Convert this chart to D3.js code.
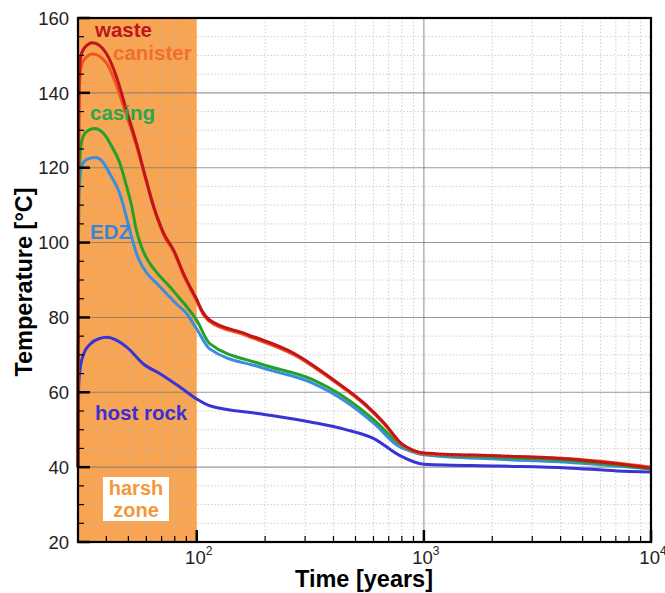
<!DOCTYPE html>
<html><head><meta charset="utf-8">
<script src="https://cdn.jsdelivr.net/npm/d3@7"></script>
<style>body{margin:0;background:#fff}svg{display:block}text{font-family:"Liberation Sans",Arial,Helvetica,sans-serif}</style>
</head><body>
<script>
// ---- data (time in years, temperature in °C) ----
const waste = [[30,40],[30.15,120],[30.3,143],[30.8,149.5],[32,152],[34.8,153.4],[40,150.5],[44.3,144.3],[49,135.4],[54.3,126.5],[60,116.6],[64.7,109.5],[67,106.8],[71.6,102.4],[79.2,97.9],[87.6,91.6],[97,86.3],[100,84.8],[105,82],[114,79.3],[163,75.7],[270,70.3],[405,63.1],[550,56.9],[673,51.6],[800,46.2],[900,44.5],[1000,43.8],[2160,43],[4270,42.2],[7080,40.9],[10000,39.8]];
const canister = [[30,40],[30.15,115],[30.3,138],[30.8,146],[32,149],[34.8,150.4],[40,148],[44.3,142],[49,134],[54.3,125.8],[60,116.2],[64.7,109.2],[67,106.5],[71.6,102],[79.2,97.5],[87.6,91.2],[97,85.9],[100,84.4],[105,81.6],[114,78.9],[163,75.3],[270,69.9],[405,62.8],[550,56.6],[673,51.3],[800,46],[900,44.3],[1000,43.6],[2160,43],[4270,42.3],[7080,41.1],[10000,40]];
const casing = [[30,40],[30.15,100],[30.3,116],[31,126.5],[32.5,129.5],[35.5,130.5],[40,128.2],[41.4,126.6],[45.8,121.3],[49,115.2],[51.6,110],[53.9,104],[57.1,98.8],[61,95.2],[67.5,91.6],[76.1,88.2],[82.7,85.6],[90,83],[97,80.4],[100,79.2],[114,73],[193,67.5],[320,63.5],[449,58.6],[608,52.4],[768,46.6],[900,44.2],[1000,43.5],[2160,42.6],[4270,41.8],[7080,40.6],[10000,39.6]];
const edz = [[30,40],[30.1,95],[30.2,112],[31.2,120.6],[33,122.3],[35.8,122.7],[38.5,121.6],[41.4,118.4],[45.8,113.1],[49,106.8],[51.6,101.5],[55.1,96],[60,92],[66.4,89.2],[73.5,86.4],[81.4,83.6],[90.6,80.9],[95.4,78.8],[100,76.9],[114,71.6],[193,66.6],[320,62.6],[449,57.7],[608,51.5],[768,45.7],[900,44],[1000,43.3],[2160,42.1],[4270,41.3],[7080,40.3],[10000,39.5]];
const hostRock = [[30,40],[30.2,61.3],[30.6,66],[31.8,70.3],[34,72.9],[37,74.3],[40.3,74.7],[44,74],[49.3,72],[58.4,67.5],[69.2,64.9],[84.8,61.3],[100,58.2],[114,56.4],[193,54.2],[320,52],[449,50.1],[608,47.5],[768,43.4],[1000,40.8],[2160,40.3],[4270,39.8],[7080,39],[10000,38.7]];
const xMajorTicks = [100, 1000, 10000];
const xTickExp = ["2", "3", "4"];
const yMajorTicks = [20, 40, 60, 80, 100, 120, 140, 160];
const harshZone = [30, 100];

const W = 665, H = 593;
const svg = d3.select("body").append("svg").attr("width", W).attr("height", H);
const x = d3.scaleLog().domain([30, 10000]).range([78, 651]);
const y = d3.scaleLinear().domain([20, 160]).range([542, 18]);

// minor ticks
const xMinor = [];
[10, 100, 1000].forEach(d => { for (let k = 2; k <= 9; k++) { const v = d * k; if (v > 30 && v < 10000 && v !== 100 && v !== 1000) xMinor.push(v); } });
const yMinor = d3.range(25, 160, 5).filter(v => v % 20 !== 0);

// harsh zone
svg.append("rect").attr("x", x(harshZone[0])).attr("y", y(160))
  .attr("width", x(harshZone[1]) - x(harshZone[0])).attr("height", y(20) - y(160))
  .attr("fill", "#F8A553");

// grid
const g = svg.append("g");
g.selectAll(".vminor").data(xMinor).join("line")
  .attr("x1", d => x(d)).attr("x2", d => x(d)).attr("y1", y(160)).attr("y2", y(20))
  .attr("stroke", "#bbb").attr("stroke-opacity", 0.7).attr("stroke-dasharray", "1.5,2");
g.selectAll(".hminor").data(yMinor).join("line")
  .attr("x1", x(30)).attr("x2", x(10000)).attr("y1", d => y(d)).attr("y2", d => y(d))
  .attr("stroke", "#bbb").attr("stroke-opacity", 0.7).attr("stroke-dasharray", "1.5,2");
g.selectAll(".hmajor").data(yMajorTicks.slice(1, -1)).join("line")
  .attr("x1", x(30)).attr("x2", x(10000)).attr("y1", d => y(d)).attr("y2", d => y(d))
  .attr("stroke", "#777").attr("stroke-opacity", 0.75).attr("stroke-width", 1.1);
g.append("line").attr("x1", x(1000)).attr("x2", x(1000)).attr("y1", y(160)).attr("y2", y(20))
  .attr("stroke", "#777").attr("stroke-opacity", 0.75).attr("stroke-width", 1.1);

// curves
const line = d3.line().x(d => x(d[0])).y(d => y(d[1])).curve(d3.curveMonotoneX);
const series = [
  {data: hostRock, color: "#3A34D6"},
  {data: edz, color: "#3A8EE2"},
  {data: casing, color: "#23A12A"},
  {data: canister, color: "#F2561F"},
  {data: waste, color: "#C3141B"}
];
svg.append("g").selectAll("path").data(series).join("path")
  .attr("d", d => line(d.data)).attr("fill", "none")
  .attr("stroke", d => d.color).attr("stroke-width", 3).attr("stroke-linejoin", "round");

// ticks
const tk = svg.append("g").attr("stroke", "#000");
tk.selectAll(".ym").data(yMajorTicks).join("line")
  .attr("x1", x(30)).attr("x2", x(30) + 12).attr("y1", d => y(d)).attr("y2", d => y(d)).attr("stroke-width", 2.5);
tk.selectAll(".yn").data(yMinor).join("line")
  .attr("x1", x(30)).attr("x2", x(30) + 6).attr("y1", d => y(d)).attr("y2", d => y(d)).attr("stroke-width", 1.2);
tk.selectAll(".xm").data(xMajorTicks).join("line")
  .attr("x1", d => x(d)).attr("x2", d => x(d)).attr("y1", y(20)).attr("y2", y(20) - 12).attr("stroke-width", 2.5);
tk.selectAll(".xn").data(xMinor).join("line")
  .attr("x1", d => x(d)).attr("x2", d => x(d)).attr("y1", y(20)).attr("y2", y(20) - 6).attr("stroke-width", 1.2);

// frame
svg.append("rect").attr("x", x(30)).attr("y", y(160)).attr("width", x(10000) - x(30)).attr("height", y(20) - y(160))
  .attr("fill", "none").attr("stroke", "#000").attr("stroke-width", 2.2);

// tick labels
svg.append("g").selectAll("text").data(yMajorTicks).join("text")
  .attr("x", 69).attr("y", d => y(d)).attr("dy", "0.36em").attr("text-anchor", "end")
  .attr("font-size", 18.5).attr("fill", "#222").text(d => d);
const xl = svg.append("g").selectAll("text").data(xMajorTicks).join("text")
  .attr("x", d => x(d) + 2).attr("y", 564).attr("text-anchor", "middle").attr("font-size", 18.5).attr("fill", "#222");
xl.append("tspan").text("10");
xl.append("tspan").attr("dy", -9).attr("font-size", 12).text((d, i) => xTickExp[i]);

// axis titles
svg.append("text").attr("x", 364).attr("y", 587).attr("text-anchor", "middle")
  .attr("font-size", 23.5).attr("font-weight", "bold").attr("fill", "#000").text("Time [years]");
svg.append("text").attr("transform", "translate(32,282) rotate(-90)").attr("text-anchor", "middle")
  .attr("font-size", 23.5).attr("font-weight", "bold").attr("fill", "#000").text("Temperature [°C]");

// series labels
const labels = [
  {t: "waste", x: 95, y: 37, c: "#C0141C"},
  {t: "canister", x: 113, y: 60, c: "#F26E2C"},
  {t: "casing", x: 90, y: 120, c: "#2DA64A"},
  {t: "EDZ", x: 90, y: 239, c: "#3C85D6"},
  {t: "host rock", x: 95, y: 420, c: "#3A30CF"}
];
svg.append("g").selectAll("text").data(labels).join("text")
  .attr("x", d => d.x).attr("y", d => d.y).attr("font-size", 20.5).attr("font-weight", "bold")
  .attr("fill", d => d.c).text(d => d.t);

// harsh zone label
svg.append("rect").attr("x", 103).attr("y", 477).attr("width", 66).attr("height", 44).attr("fill", "#fff");
svg.append("text").attr("x", 136).attr("y", 495).attr("text-anchor", "middle").attr("font-size", 20).attr("font-weight", "bold").attr("fill", "#F3993A").text("harsh");
svg.append("text").attr("x", 136).attr("y", 517).attr("text-anchor", "middle").attr("font-size", 20).attr("font-weight", "bold").attr("fill", "#F3993A").text("zone");
</script>
</body></html>
